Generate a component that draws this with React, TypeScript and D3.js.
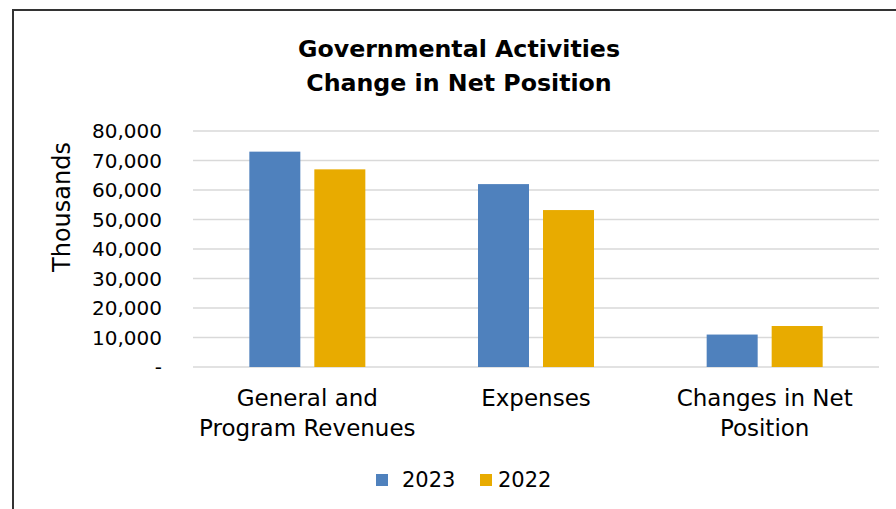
import { useEffect, useRef } from 'react';
import * as d3 from 'd3';

const categories = [['General and', 'Program Revenues'], ['Expenses'], ['Changes in Net', 'Position']];
const series = ['2023', '2022'];
const values2023 = [73000, 62000, 11000];
const values2022 = [67000, 53200, 13900];
const yTicks = [0, 10000, 20000, 30000, 40000, 50000, 60000, 70000, 80000];
const colors = ['#4f81bd', '#e8ab00'];

const W = 896;
const H = 509;
const FONT = '"DejaVu Sans", sans-serif';

export default function App() {
  const ref = useRef<SVGSVGElement>(null);

  useEffect(() => {
    if (!ref.current) return;
    const svg = d3.select(ref.current);
    svg.selectAll('*').remove();

    const left = 193;
    const right = 879;
    const top = 131;
    const bottom = 367;

    // outer chart border (right/bottom fall outside the picture)
    svg.append('rect').attr('x', 13).attr('y', 10).attr('width', W).attr('height', H)
      .attr('fill', '#fff').attr('stroke', '#333').attr('stroke-width', 2);

    svg.append('text').attr('x', 459).attr('y', 57).attr('text-anchor', 'middle')
      .attr('font-family', FONT).attr('font-weight', 'bold').attr('font-size', 23.7).attr('fill', '#000')
      .text('Governmental Activities');
    svg.append('text').attr('x', 459).attr('y', 91).attr('text-anchor', 'middle')
      .attr('font-family', FONT).attr('font-weight', 'bold').attr('font-size', 23.7).attr('fill', '#000')
      .text('Change in Net Position');

    const x0 = d3.scaleBand<number>().domain(d3.range(categories.length)).range([left, right]);
    const y = d3.scaleLinear().domain([0, 80000]).range([bottom, top]);

    // gridlines
    svg.append('g').selectAll('line').data(yTicks).join('line')
      .attr('x1', left).attr('x2', right)
      .attr('y1', (d) => y(d)).attr('y2', (d) => y(d))
      .attr('stroke', '#d9d9d9').attr('stroke-width', 1.5);

    // y tick labels
    svg.append('g').selectAll('text').data(yTicks).join('text')
      .attr('x', 162).attr('y', (d) => y(d)).attr('dy', '0.35em').attr('text-anchor', 'end')
      .attr('font-family', FONT).attr('font-size', 20).attr('fill', '#000')
      .text((d) => (d === 0 ? '-' : d3.format(',')(d)));

    svg.append('text').attr('transform', `translate(70,${(top + bottom) / 2 - 42}) rotate(-90)`)
      .attr('text-anchor', 'middle').attr('font-family', FONT).attr('font-size', 24).attr('fill', '#000')
      .text('Thousands');

    const barW = 51;
    const gap = 14;
    const data = [values2023, values2022];
    data.forEach((vals, si) => {
      svg.append('g').selectAll('rect').data(vals).join('rect')
        .attr('x', (_, i) => x0(i)! + x0.bandwidth() / 2 + (si === 0 ? -gap / 2 - barW : gap / 2))
        .attr('y', (d) => y(d))
        .attr('width', barW)
        .attr('height', (d) => bottom - y(d))
        .attr('fill', colors[si]);
    });

    // category labels
    categories.forEach((lines, i) => {
      const t = svg.append('text').attr('text-anchor', 'middle')
        .attr('font-family', FONT).attr('font-size', 23).attr('fill', '#000');
      lines.forEach((ln, j) => {
        t.append('tspan').attr('x', x0(i)! + x0.bandwidth() / 2).attr('y', 406 + j * 30).text(ln);
      });
    });

    // legend
    const legendX = [376, 480];
    const legendTextX = [402, 498];
    series.forEach((s, i) => {
      svg.append('rect').attr('x', legendX[i]).attr('y', 474).attr('width', 12).attr('height', 12).attr('fill', colors[i]);
      svg.append('text').attr('x', legendTextX[i]).attr('y', 480).attr('dy', '0.35em')
        .attr('font-family', FONT).attr('font-size', 21).attr('fill', '#000').text(s);
    });
  }, []);

  return (
    <svg ref={ref} width={W} height={H} style={{ position: 'absolute', left: 0, top: 0 }} />
  );
}
